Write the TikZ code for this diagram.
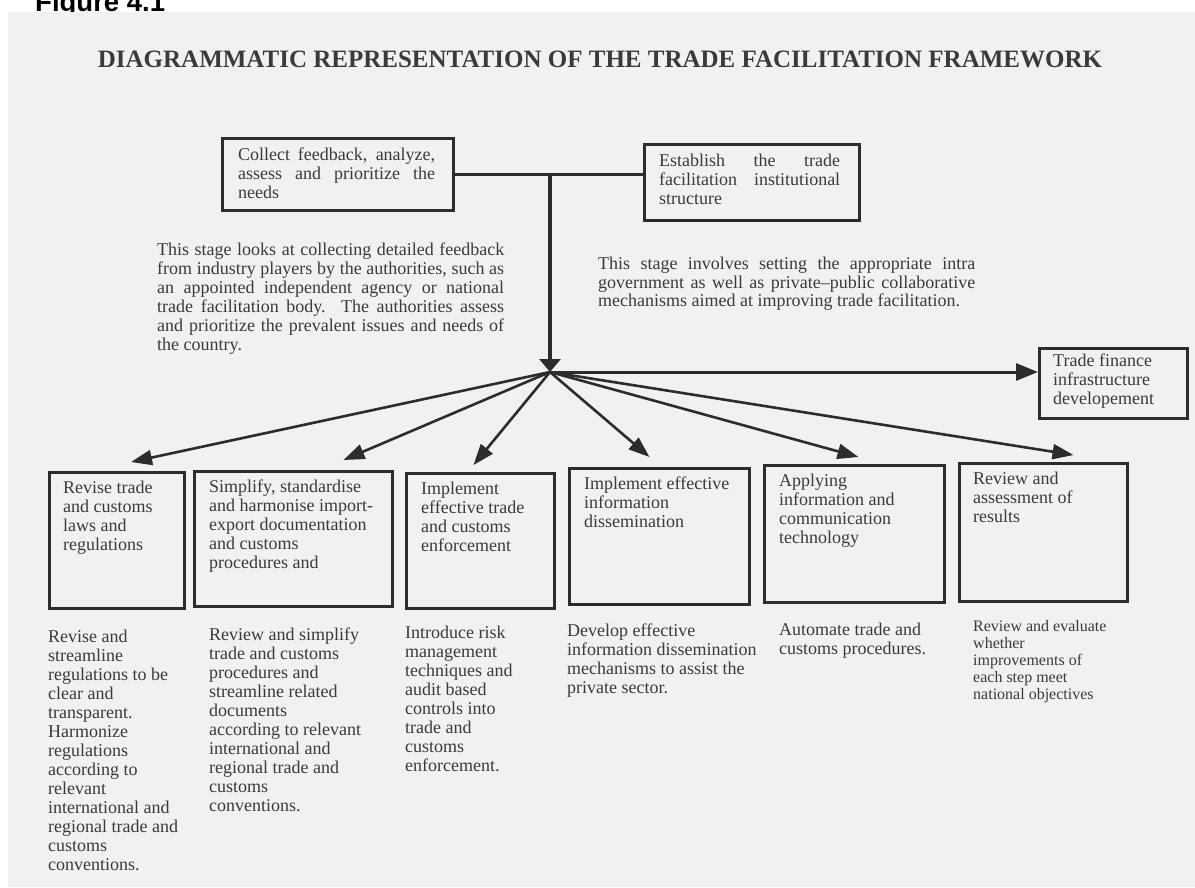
\documentclass[tikz,border=0pt]{standalone}
\usepackage{fontspec}
\setmainfont{Liberation Serif}
\newfontfamily\figfont{Liberation Sans}
\usetikzlibrary{arrows.meta}

\definecolor{scanpaper}{RGB}{240,242,240}
\definecolor{scanink}{RGB}{58,58,58}
\definecolor{scanline}{RGB}{44,44,44}

% one justified line of a paragraph
\newcommand{\jline}[1]{\makebox[\hsize][s]{\spaceskip=0pt\xspaceskip=0pt #1}\\}

\tikzset{
  stagebox/.style={draw=scanline, line width=3pt, anchor=north west, inner sep=0pt},
  boxtext/.style={anchor=north west, inner sep=0pt, align=left, text=scanink, font=\fontsize{18}{19}\selectfont},
  notetext/.style={anchor=north west, inner sep=0pt, align=left, text=scanink, font=\fontsize{18}{19}\selectfont},
  justtext/.style={anchor=north west, inner sep=0pt, align=justify, text=scanink, font=\fontsize{18}{19}\selectfont},
  trunk/.style={draw=scanline, line width=3.2pt},
  spoke/.style={draw=scanline, line width=2.6pt, -{Triangle[length=21pt,width=15pt]}},
}

\begin{document}
\begin{tikzpicture}[x=1pt,y=-1pt]
\useasboundingbox (0,0) rectangle (1195,887);
\clip (0,0) rectangle (1195,887);
%\draw[step=50,gray,very thin] (0,0) grid (1195,887);
\node[anchor=base west, inner sep=0pt, font=\figfont\bfseries\fontsize{27.5}{30}\selectfont] (figcap) at (35,11) {Figure 4.1};
\fill[scanpaper] (8,12) rectangle (1195,887);

\node[anchor=base, inner sep=0pt, text=scanink, font=\bfseries\fontsize{25}{28}\selectfont] (title) at (600,67) {DIAGRAMMATIC REPRESENTATION OF THE TRADE FACILITATION FRAMEWORK};

% top boxes
\node[stagebox, minimum width=231pt, minimum height=72pt] (collect) at (221,137) {};
\node[justtext, text width=197pt] (collecttxt) at ([shift={(17,11)}]collect.north west)
  {\jline{Collect feedback, analyze,}\jline{assess and prioritize the}needs};

\node[stagebox, minimum width=215pt, minimum height=76pt] (establish) at (643,143) {};
\node[justtext, text width=181pt] (establishtxt) at ([shift={(16,11)}]establish.north west)
  {\jline{Establish the trade}\jline{facilitation institutional}structure};

\node[justtext, text width=347pt] (collectnote) at (157,243)
  {\jline{This stage looks at collecting detailed feedback}\jline{from industry players by the authorities, such as}\jline{an appointed independent agency or national}\jline{trade facilitation body. The authorities assess}\jline{and prioritize the prevalent issues and needs of}the country.};

\node[justtext, text width=377pt, font=\fontsize{18}{18.5}\selectfont] (establishnote) at (598,257)
  {\jline{This stage involves setting the appropriate intra}\jline{government as well as private--public collaborative}mechanisms aimed at improving trade facilitation.};

\coordinate (hub) at (550,372);
\draw[trunk] (collect.east) -- (collect.east -| establish.west);
\draw[trunk, -{Triangle[length=13pt,width=21pt]}] (collect.east -| hub) -- (hub);

% trade finance
\node[stagebox, minimum width=148pt, minimum height=70pt] (finance) at (1038,347) {};
\node[boxtext] (financetxt) at ([shift={(15,7)}]finance.north west)
  {Trade finance\\infrastructure\\developement};
\draw[spoke, line width=3pt, -{Triangle[length=22pt,width=17pt]}] (hub) -- (hub -| finance.west);

% bottom boxes
\node[stagebox, minimum width=135pt, minimum height=136pt] (revise) at (48,471) {};
\node[stagebox, minimum width=198pt, minimum height=135pt] (simplify) at (193,470) {};
\node[stagebox, minimum width=148pt, minimum height=135pt] (enforce) at (405,472) {};
\node[stagebox, minimum width=180pt, minimum height=136pt] (inform) at (568,467) {};
\node[stagebox, minimum width=180pt, minimum height=137pt] (ict) at (763,464) {};
\node[stagebox, minimum width=168pt, minimum height=138pt] (review) at (958,462) {};

\node[boxtext] (revisetxt) at ([shift={(15,10)}]revise.north west)
  {Revise trade\\and customs\\laws and\\regulations};
\node[boxtext] (simplifytxt) at ([shift={(16,10)}]simplify.north west)
  {Simplify, standardise\\and harmonise import-\\export documentation\\and customs\\procedures and};
\node[boxtext] (enforcetxt) at ([shift={(16,10)}]enforce.north west)
  {Implement\\effective trade\\and customs\\enforcement};
\node[boxtext] (informtxt) at ([shift={(16,10)}]inform.north west)
  {Implement effective\\information\\dissemination};
\node[boxtext] (icttxt) at ([shift={(16,10)}]ict.north west)
  {Applying\\information and\\communication\\technology};
\node[boxtext] (reviewtxt) at ([shift={(15,10)}]review.north west)
  {Review and\\assessment of\\results};

\draw[spoke] (hub) -- ([shift={(14,-9)}]revise.north);
\draw[spoke] (hub) -- ([shift={(50,-10)}]simplify.north);
\draw[spoke] (hub) -- ([shift={(-7,-7)}]enforce.north);
\draw[spoke] (hub) -- ([shift={(-10,-10)}]inform.north);
\draw[spoke] (hub) -- ([shift={(4,-7)}]ict.north);
\draw[spoke] (hub) -- ([shift={(30,-7)}]review.north);

% notes under the boxes
\node[notetext] (revisenote) at (48,630)
  {Revise and\\streamline\\regulations to be\\clear and\\transparent.\\Harmonize\\regulations\\according to\\relevant\\international and\\regional trade and\\customs\\conventions.};
\node[notetext] (simplifynote) at (209,628)
  {Review and simplify\\trade and customs\\procedures and\\streamline related\\documents\\according to relevant\\international and\\regional trade and\\customs\\conventions.};
\node[notetext] (enforcenote) at (405,626)
  {Introduce risk\\management\\techniques and\\audit based\\controls into\\trade and\\customs\\enforcement.};
\node[notetext] (informnote) at (567,624)
  {Develop effective\\information dissemination\\mechanisms to assist the\\private sector.};
\node[notetext] (ictnote) at (779,623)
  {Automate trade and\\customs procedures.};
\node[notetext, font=\fontsize{16}{17}\selectfont] (reviewnote) at (973,620)
  {Review and evaluate\\whether\\improvements of\\each step meet\\national objectives};

\end{tikzpicture}
\end{document}
